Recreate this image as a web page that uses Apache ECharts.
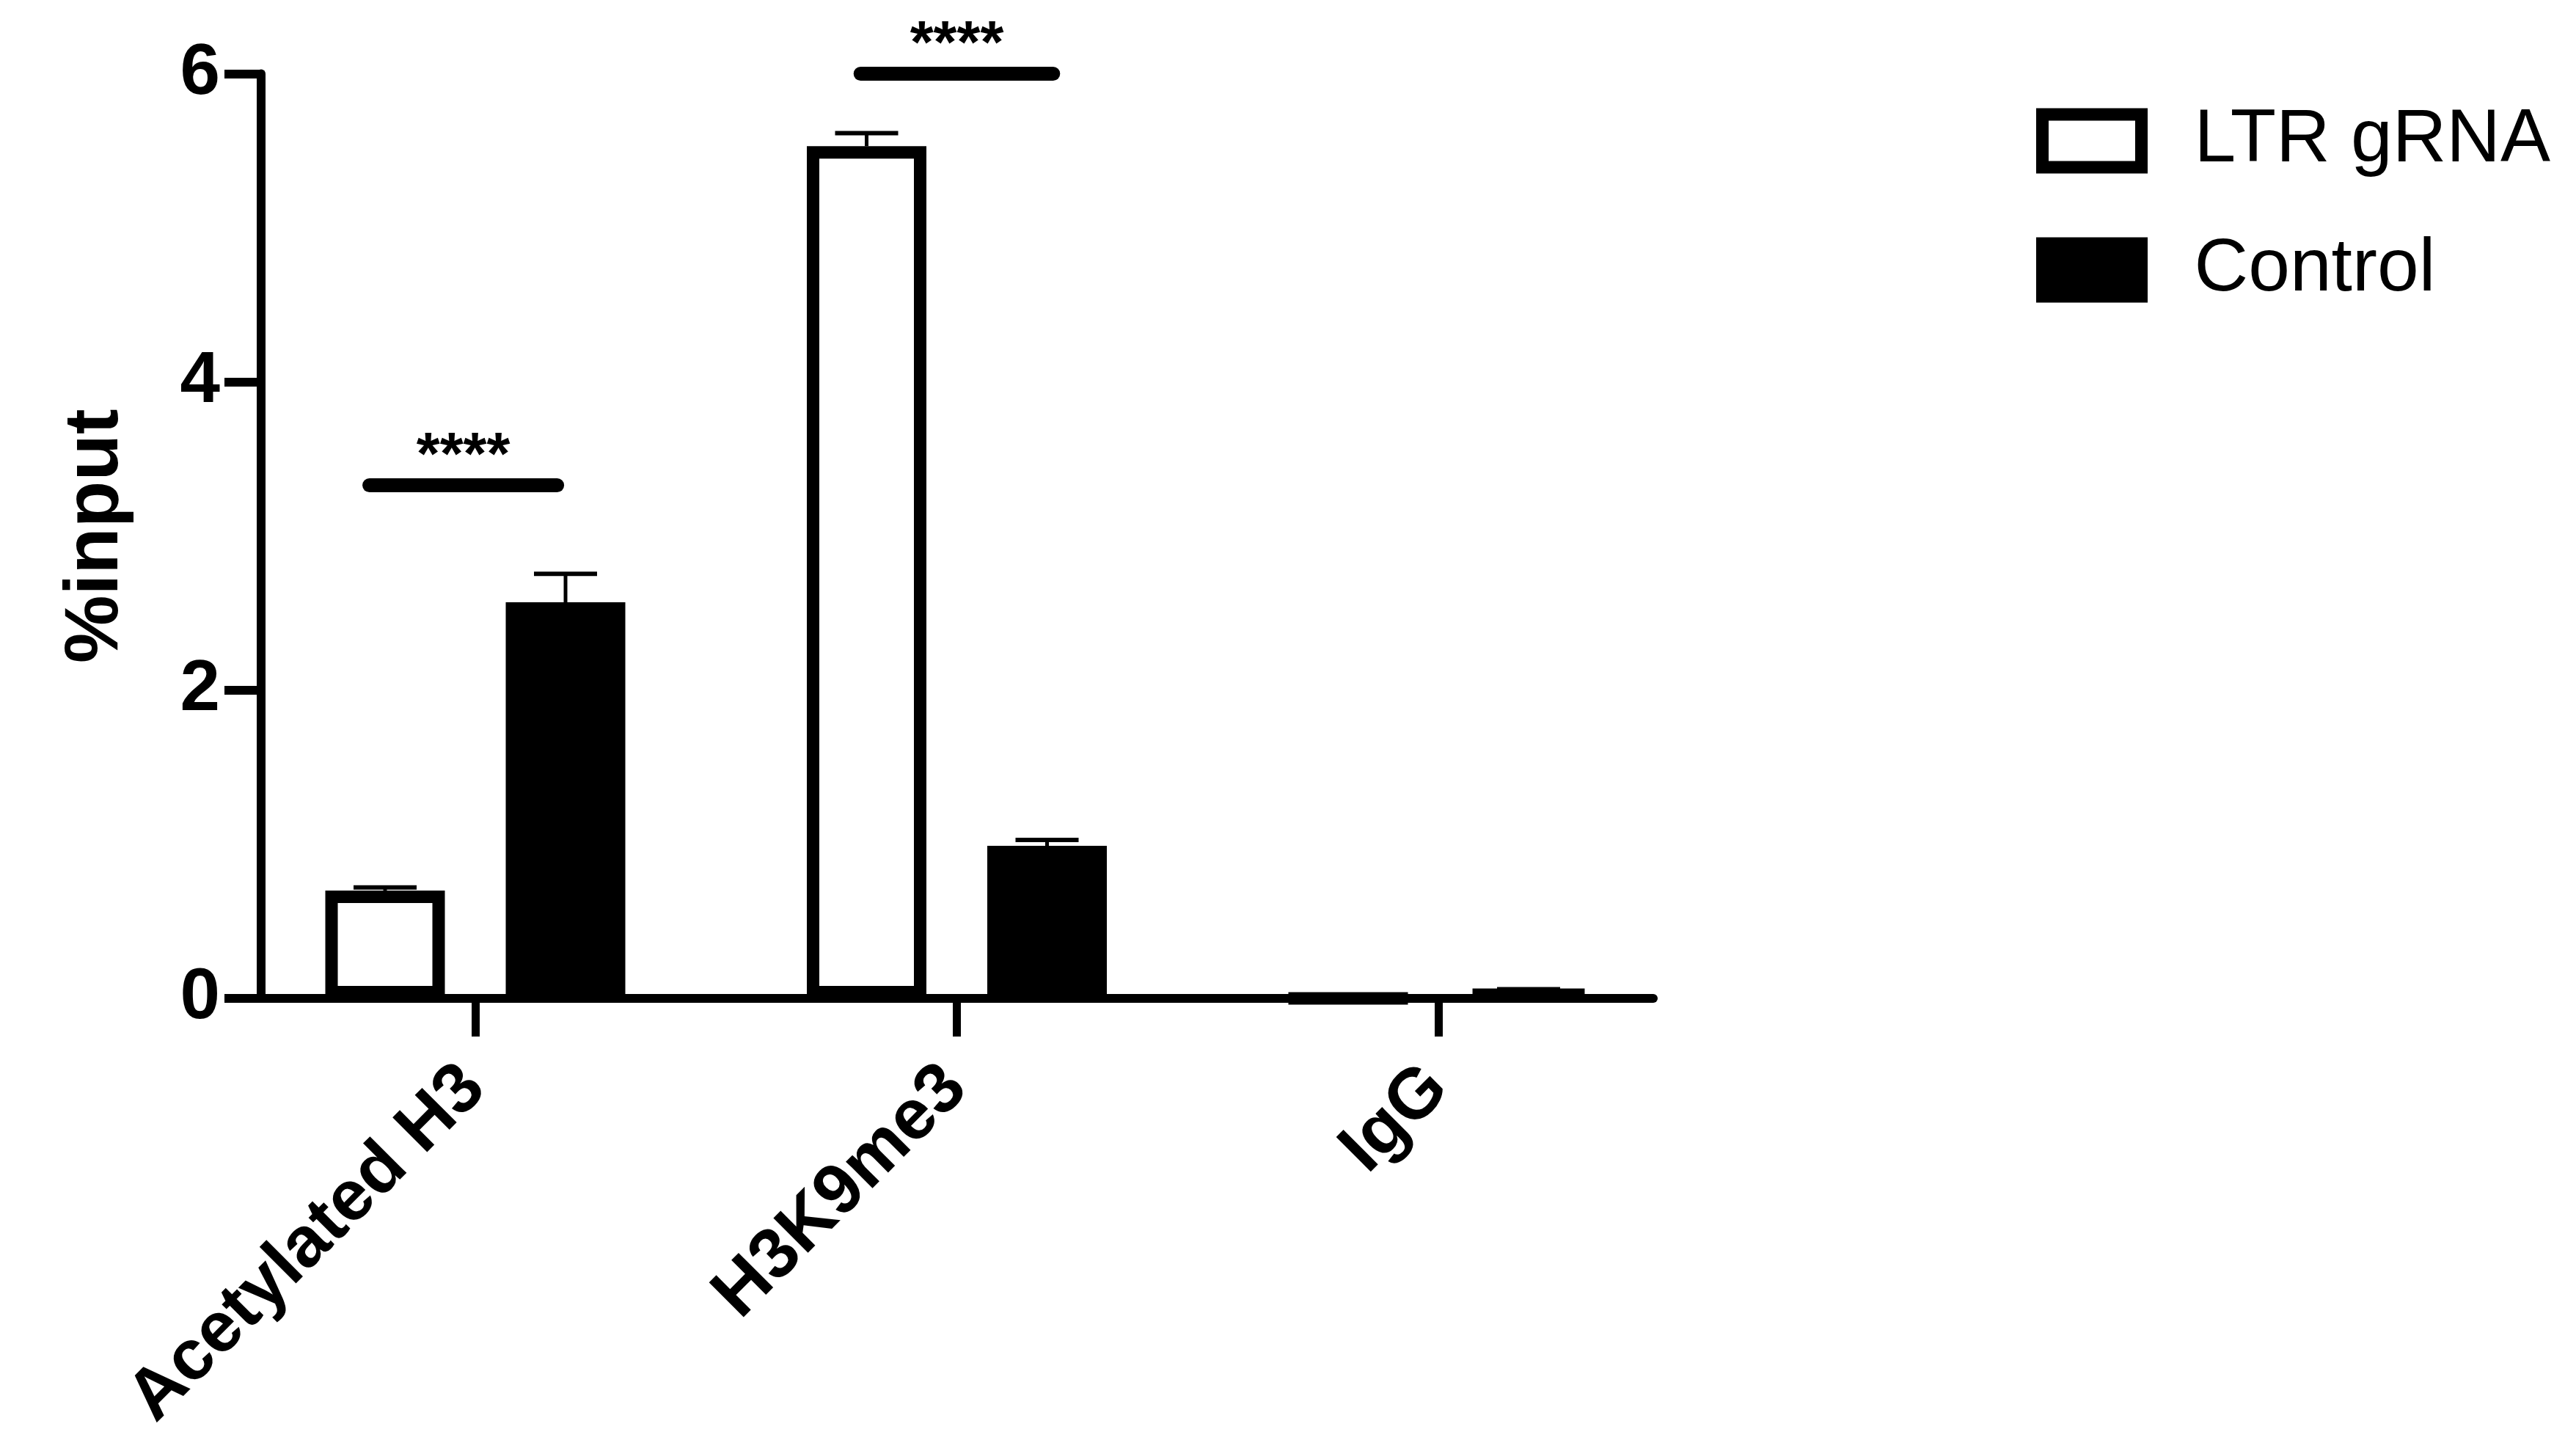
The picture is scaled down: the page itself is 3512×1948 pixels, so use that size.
<!DOCTYPE html>
<html>
<head>
<meta charset="utf-8">
<title>%input</title>
<script src="https://cdn.jsdelivr.net/npm/echarts@6/dist/echarts.min.js"></script>
<style>
  html, body { margin: 0; padding: 0; background: #fff; }
  #chart { width: 3512px; height: 1948px; }
</style>
</head>
<body>
<div id="chart"></div>
<script>
const categories = ['Acetylated H3', 'H3K9me3', 'IgG']
const seriesNames = ['LTR gRNA', 'Control']
const ltrValues = [0.70, 5.53, 0]
const ltrErrors = [0.02, 0.085, 0.02]
const controlValues = [2.57, 0.99, 0.048]
const controlErrors = [0.185, 0.038, 0.011]
const yTicks = [0, 2, 4, 6]
// significance bars: [from, to, level] in axis units
const sigBars = [[-0.22, 0.17, 3.33], [0.80, 1.20, 6.0]]
const sigLabels = ['****', '****']

const font = '"Liberation Sans", Arial, Helvetica, sans-serif'
const barWidth = 163
const barGapPx = 83
const barShift = (barWidth + barGapPx) / 2

const chart = echarts.init(document.getElementById('chart'))

function errorBar(shift) {
  return (params, api) => {
    const base = api.coord([api.value(0), api.value(1)])
    const top = api.coord([api.value(0), api.value(1) + api.value(2)])
    const x = base[0] + shift
    return {
      type: 'group',
      children: [
        { type: 'line', shape: { x1: x, y1: base[1], x2: x, y2: top[1] }, style: { stroke: '#000', lineWidth: 5 } },
        { type: 'line', shape: { x1: x - 43, y1: top[1], x2: x + 43, y2: top[1] }, style: { stroke: '#000', lineWidth: 6 } }
      ]
    }
  }
}

chart.setOption({
  animation: false,
  backgroundColor: '#fff',
  grid: { left: 356, right: 1258, top: 100.5, bottom: 587, outerBoundsMode: 'none' },
  legend: {
    orient: 'vertical',
    left: 2776,
    top: 141,
    padding: 0,
    itemWidth: 135,
    itemHeight: 72,
    itemGap: 74,
    icon: 'rect',
    selectedMode: false,
    textStyle: { fontSize: 102, fontFamily: font, color: '#000', padding: [0, 0, 0, 67] },
    data: [
      { name: seriesNames[0], itemStyle: { color: '#fff', borderColor: '#000', borderWidth: 17 } },
      { name: seriesNames[1], itemStyle: { color: '#000', borderColor: '#000', borderWidth: 17 } }
    ]
  },
  xAxis: {
    type: 'value',
    min: -0.4448,
    max: 2.4463,
    splitLine: { show: false },
    axisLine: { show: true, onZero: false, lineStyle: { color: '#000', width: 12 } },
    axisTick: { show: true, customValues: [0, 1, 2], length: 52, lineStyle: { color: '#000', width: 11 } },
    axisLabel: {
      customValues: [0, 1, 2],
      formatter: v => categories[v],
      rotate: 45,
      margin: 106,
      padding: [0, 2, 0, 0],
      color: '#000',
      fontSize: 97,
      fontWeight: 'bold',
      fontFamily: font
    }
  },
  yAxis: {
    type: 'value',
    min: yTicks[0],
    max: yTicks[yTicks.length - 1],
    interval: 2,
    name: '%input',
    nameLocation: 'middle',
    nameGap: 173,
    nameTextStyle: { color: '#000', fontSize: 104, fontWeight: 'bold', fontFamily: font },
    splitLine: { show: false },
    axisLine: { show: true, onZero: false, lineStyle: { color: '#000', width: 12 } },
    axisTick: { show: true, length: 50, lineStyle: { color: '#000', width: 12 } },
    axisLabel: { margin: 56, color: '#000', fontSize: 98, fontWeight: 'bold', fontFamily: font }
  },
  series: [
    {
      name: seriesNames[0],
      type: 'bar',
      silent: true,
      barWidth: barWidth,
      barGap: (barGapPx / barWidth * 100) + '%',
      itemStyle: { color: '#fff', borderColor: '#000', borderWidth: 17 },
      data: ltrValues.map((v, i) => [i, v])
    },
    {
      name: seriesNames[1],
      type: 'bar',
      silent: true,
      barWidth: barWidth,
      barGap: (barGapPx / barWidth * 100) + '%',
      itemStyle: { color: '#000', borderColor: '#000', borderWidth: 17 },
      data: controlValues.map((v, i) => [i, v])
    },
    {
      type: 'custom',
      silent: true,
      z: 3,
      renderItem: errorBar(-barShift),
      encode: { x: 0, y: 1 },
      data: ltrValues.map((v, i) => [i, v, ltrErrors[i]])
    },
    {
      type: 'custom',
      silent: true,
      z: 3,
      renderItem: errorBar(barShift),
      encode: { x: 0, y: 1 },
      data: controlValues.map((v, i) => [i, v, controlErrors[i]])
    },
    {
      type: 'custom',
      silent: true,
      z: 4,
      encode: { x: [0, 1], y: 2 },
      data: sigBars,
      renderItem: (params, api) => {
        const a = api.coord([api.value(0), api.value(2)])
        const b = api.coord([api.value(1), api.value(2)])
        return {
          type: 'group',
          children: [
            { type: 'line', shape: { x1: a[0], y1: a[1], x2: b[0], y2: b[1] }, style: { stroke: '#000', lineWidth: 19, lineCap: 'round' } },
            {
              type: 'text',
              style: {
                text: sigLabels[params.dataIndex],
                x: (a[0] + b[0]) / 2,
                y: a[1] - 38,
                align: 'center',
                verticalAlign: 'middle',
                fill: '#000',
                fontSize: 82,
                fontWeight: 'bold',
                fontFamily: font
              }
            }
          ]
        }
      }
    }
  ]
})
</script>
</body>
</html>
